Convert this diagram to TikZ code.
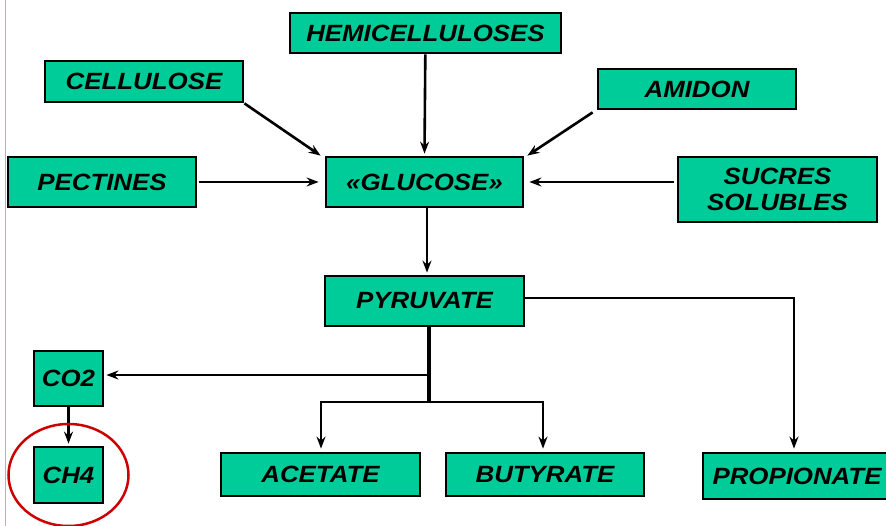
\documentclass[tikz,border=0pt]{standalone}
\usepackage{fontspec}
\usepackage{tikz}
\usetikzlibrary{positioning,arrows.meta}
\newfontfamily\boxfont{Liberation Sans}[FakeStretch=1.1]
\definecolor{boxgreen}{RGB}{0,204,153}
\definecolor{ringred}{RGB}{204,0,0}
\definecolor{edgegray}{RGB}{185,178,178}
\tikzset{
  compbox/.style  = {rectangle, draw=black, line width=2.8pt, fill=boxgreen,
                     inner sep=0pt, align=center,
                     font=\boxfont\bfseries\itshape\fontsize{23.5}{26}\selectfont},
  flowarr/.style  = {-{Stealth[length=12pt,width=9pt,inset=4pt]}, line width=2.6pt},
  trunkline/.style= {line width=4.5pt}
}

\begin{document}
\begin{tikzpicture}[x=1pt, y=-1pt]
  \useasboundingbox (0,0) rectangle (886,526);
  \draw[edgegray, line width=1pt] (5,0) -- (5,526);
  % Substrates
  \node[compbox, minimum width=271pt, minimum height=40pt] (hemi) at (425.5,33)  {HEMICELLULOSES};
  \node[compbox, minimum width=198pt, minimum height=41pt] (cell) at (144,81.5)  {CELLULOSE};
  \node[compbox, minimum width=198pt, minimum height=40pt] (amid) at (697,89)    {AMIDON};
  \node[compbox, minimum width=188pt, minimum height=50pt] (pect) at (102,182)   {PECTINES};
  \node[compbox, minimum width=199pt, minimum height=65pt] (sucr) at (777.5,189.5){SUCRES\\SOLUBLES};
  % Glucose and pyruvate
  \node[compbox, minimum width=197pt, minimum height=50pt] (gluc) at (424.5,182) {«GLUCOSE»};
  \node[compbox, minimum width=199pt, minimum height=50pt] (pyr)  at (424.5,301) {PYRUVATE};
  % Products
  \node[compbox, minimum width=69pt,  minimum height=55pt] (co2)  at (68.5,378.5){CO2};
  \node[compbox, minimum width=69pt,  minimum height=56pt] (ch4)  at (68.5,475)  {CH4};
  \node[compbox, minimum width=199pt, minimum height=43pt] (acet) at (320.5,474.5){ACETATE};
  \node[compbox, minimum width=198pt, minimum height=43pt] (buty) at (545,474.5) {BUTYRATE};
  \node[compbox, minimum width=188pt, minimum height=46pt] (prop) at (797,476)   {PROPIONATE};
  % Branch points
  \coordinate (split) at (429,375);
  \coordinate (fork)  at (429,402);
  % Edges into glucose
  \draw[flowarr] (hemi) -- ([yshift=2pt]gluc.north);
  \draw[flowarr] (cell.south east) -- ([shift={(-4pt,0)}]gluc.north west);
  \draw[flowarr] ([shift={(-4pt,-2pt)}]amid.south west) -- ([shift={(3pt,0)}]gluc.north east);
  \draw[flowarr] ([xshift=2pt]pect.east) -- ([xshift=-6pt]gluc.west);
  \draw[flowarr] ([xshift=-3pt]sucr.west |- gluc) -- ([xshift=5pt]gluc.east);
  \draw[flowarr] ([xshift=2.5pt]gluc.south) -- ([xshift=2.5pt,yshift=2pt]pyr.north);
  % Edges out of pyruvate
  \draw[trunkline] (pyr.south -| split) -- (fork);
  \draw[flowarr] (split) -- ([xshift=2pt]split -| co2.east);
  \draw[flowarr] (fork) -| ([xshift=0.5pt,yshift=3pt]acet.north);
  \draw[flowarr] (fork) -| ([xshift=-2pt,yshift=3pt]buty.north);
  \draw[flowarr] ([yshift=3pt]pyr.east) -| ([xshift=-3pt,yshift=3pt]prop.north);
  \draw[flowarr] (co2) -- ([yshift=2pt]ch4.north);
  % Highlight
  \draw[ringred, line width=2.5pt] (ch4) ellipse (60pt and 51pt);
\end{tikzpicture}
\end{document}
